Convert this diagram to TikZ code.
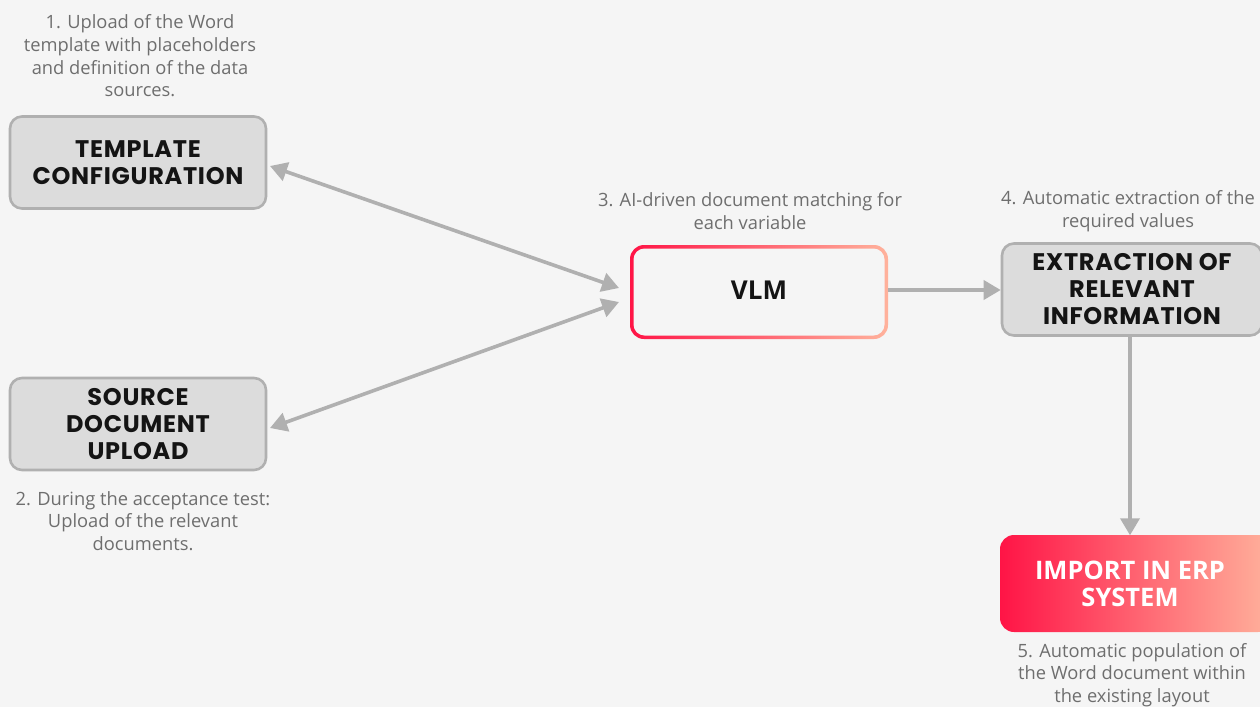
\documentclass[tikz,border=0pt]{standalone}
\usepackage{fontspec}
\setmainfont{Open Sans}
\newfontfamily\headfont[LetterSpace=3]{Poppins}
\usetikzlibrary{arrows.meta}
\definecolor{bg}{HTML}{F5F5F5}
\definecolor{boxfill}{HTML}{DCDCDC}
\definecolor{boxline}{HTML}{B0B0B0}
\definecolor{arrowgray}{HTML}{B0B0B0}
\definecolor{notegray}{HTML}{6E6E6E}
\definecolor{hotred}{HTML}{FF1446}
\definecolor{peach}{HTML}{FFB29C}
\definecolor{ink}{HTML}{141414}
\tikzset{
  graybox/.style={draw=boxline, line width=2.6pt, fill=boxfill, rounded corners=12pt,
    minimum width=256pt, minimum height=92pt, align=center, text=ink,
    font=\headfont\bfseries\fontsize{24}{27}\selectfont, inner sep=0pt},
  note/.style={align=center, text=notegray, font=\fontsize{18.3}{22.7}\selectfont, inner sep=0pt},
  flow/.style={draw=arrowgray, line width=3.6pt, -{Triangle[length=17pt,width=19pt]}},
  both/.style={draw=arrowgray, line width=3.6pt, {Triangle[length=17pt,width=19pt]}-{Triangle[length=17pt,width=19pt]}},
}
\begin{document}
\begin{tikzpicture}[x=1pt, y=-1pt]
  \fill[bg] (0,0) rectangle (1260,707);
  \useasboundingbox (0,0) rectangle (1260,707);

  % left-hand input steps
  \node[graybox] (tpl) at (138,162.5) {TEMPLATE\\CONFIGURATION};
  \node[graybox] (src) at (138,424) {SOURCE\\DOCUMENT\\UPLOAD};

  % VLM box with a gradient outline
  \shade[left color=hotred, right color=peach, rounded corners=14pt] (630,245) rectangle (888,339);
  \fill[bg, rounded corners=11pt] (633.5,248.5) rectangle (884.5,335.5);
  \node[minimum width=258pt, minimum height=94pt, inner sep=0pt, text=ink,
        font=\bfseries\fontsize{26}{30}\selectfont] (vlm) at (759,290) {VLM};

  % extraction step (runs off the right edge)
  \node[graybox, minimum width=260pt] (ext) at (1132,289.5) {EXTRACTION OF\\RELEVANT\\INFORMATION};

  % final import step with gradient fill
  \shade[left color=hotred, right color=peach, rounded corners=14pt] (1000,535) rectangle (1272,632);
  \node[minimum width=260pt, minimum height=96pt, inner sep=0pt, text=white, align=center,
        font=\bfseries\fontsize{25.5}{27}\selectfont] (erp) at (1130,583.5) {IMPORT IN ERP\\SYSTEM};

  % connectors
  \coordinate (vlmA) at (619,288);
  \coordinate (vlmB) at (619,302);
  \coordinate (tplR) at (270,166);
  \coordinate (srcR) at (270,428);
  \draw[both] (vlmA) -- (tplR);
  \draw[both] (vlmB) -- (srcR);
  \draw[flow] (vlm.east) -- (vlm.east -| ext.west);
  \draw[flow] (ext.south -| erp.north) -- (erp.north);

  % step notes
  \node[note] (n1) at (140,56) {1. Upload of the Word\\template with placeholders\\and definition of the data\\sources.};
  \node[note] (n2) at (143,521) {2. During the acceptance test:\\Upload of the relevant\\documents.};
  \node[note] (n3) at (750,211) {3. AI-driven document matching for\\each variable};
  \node[note] (n4) at (1128,211) {4. Automatic extraction of the\\required values};
  \node[note] (n5) at (1132,675) {5. Automatic population of\\the Word document within\\the existing layout};
\end{tikzpicture}
\end{document}
